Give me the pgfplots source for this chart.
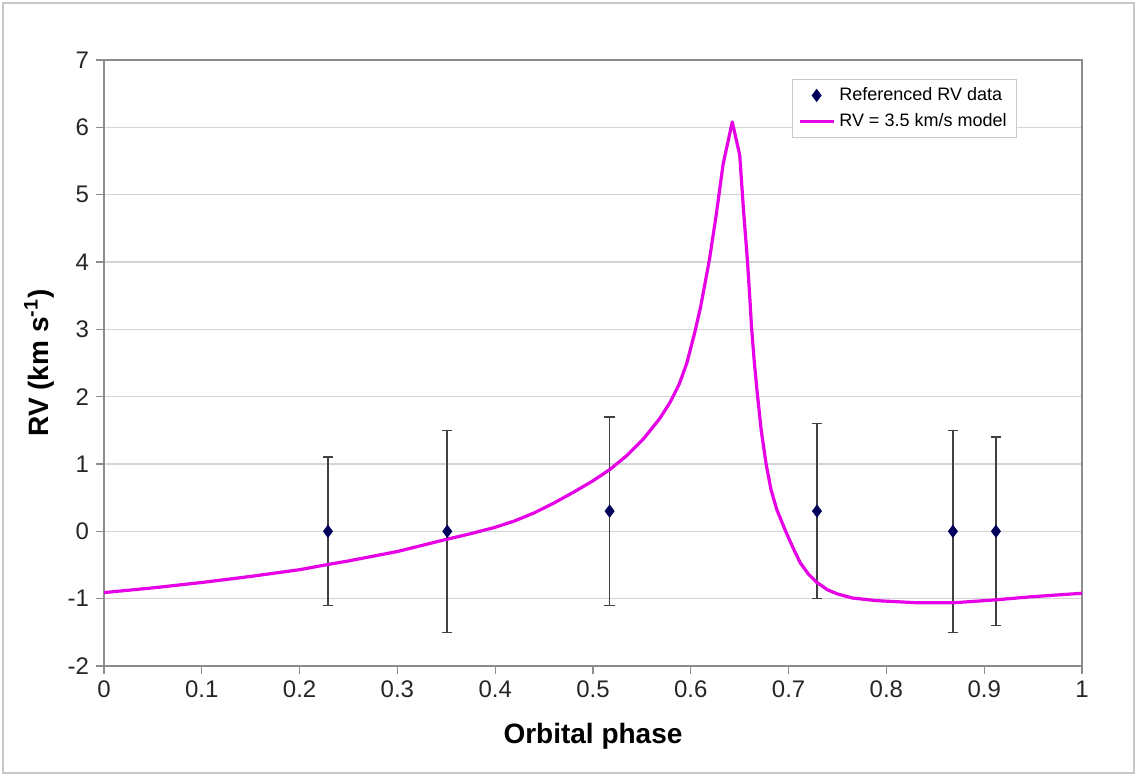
\documentclass[border=0pt]{standalone}
\usepackage{fontspec}
\setmainfont{Liberation Sans}
\usepackage{pgfplots}
\pgfplotsset{compat=1.18}

\definecolor{rvmag}{RGB}{230,0,230}
\definecolor{ptnavy}{RGB}{0,0,90}
\definecolor{gridgray}{RGB}{212,212,212}
\definecolor{boxgray}{RGB}{140,140,140}
\definecolor{framegray}{RGB}{200,200,200}

% Measured radial velocities with symmetric errors (km/s)
\pgfplotstableread{
phase rv err
0.229 0.0 1.1
0.351 0.0 1.5
0.517 0.3 1.4
0.729 0.3 1.3
0.868 0.0 1.5
0.912 0.0 1.4
}\rvdata

% Model curve for a 3.5 km/s semi-amplitude
\pgfplotstableread{
phase rv
0.000 -0.91
0.050 -0.84
0.100 -0.76
0.150 -0.67
0.200 -0.57
0.230 -0.49
0.250 -0.44
0.300 -0.30
0.350 -0.12
0.375 -0.035
0.400 0.06
0.420 0.155
0.440 0.275
0.460 0.42
0.480 0.58
0.500 0.75
0.5174 0.92
0.535 1.13
0.552 1.38
0.568 1.67
0.579 1.92
0.588 2.18
0.596 2.50
0.604 2.95
0.610 3.33
0.619 4.03
0.626 4.70
0.633 5.45
0.6424 6.08
0.650 5.59
0.654 4.75
0.658 4.00
0.6605 3.43
0.662 3.05
0.665 2.50
0.668 2.05
0.672 1.50
0.677 1.00
0.682 0.62
0.688 0.32
0.697 0.00
0.705 -0.26
0.712 -0.47
0.720 -0.63
0.729 -0.76
0.740 -0.87
0.750 -0.93
0.765 -0.99
0.790 -1.03
0.830 -1.06
0.870 -1.06
0.910 -1.02
0.950 -0.97
1.000 -0.92
}\rvmodel

\begin{document}
\begin{tikzpicture}
\begin{axis}[
  name=ax,
  scale only axis,
  width=489pt, height=303pt,
  xmin=0, xmax=1, ymin=-2, ymax=7,
  xtick={0,0.1,...,1.0},
  ytick={-2,-1,...,7},
  xticklabel style={/pgf/number format/fixed, /pgf/number format/precision=1},
  /pgf/number format/assume math mode=true,
  tick label style={font=\fontsize{12}{14}\selectfont, text=black!85},
  tick pos=left,
  tick align=outside,
  major tick length=4pt,
  tick style={boxgray, line width=0.6pt},
  axis line style={boxgray, line width=1pt},
  ymajorgrids,
  grid style={gridgray, line width=0.8pt},
  xlabel={\bfseries Orbital phase},
  ylabel={\bfseries RV (km s\textsuperscript{-1})},
  xlabel style={font=\fontsize{14}{16}\selectfont, at={(axis description cs:0.5,0)}, anchor=north, yshift=-25pt},
  ylabel style={font=\fontsize{14}{16}\selectfont},
  legend style={
    at={(rel axis cs:0.9335,0.9686)}, anchor=north east,
    draw=framegray, fill=white,
    font=\fontsize{9}{11}\selectfont,
    inner xsep=3pt, inner ysep=2pt,
    row sep=1pt,
  },
  legend cell align=left,
  clip=false,
]
\addplot[
  only marks,
  mark=diamond*,
  mark size=3pt,
  mark options={draw=ptnavy, fill=ptnavy},
  error bars/.cd,
    y dir=both, y explicit,
    error bar style={black!75, line width=0.8pt},
    error mark options={rotate=90, mark size=2.6pt, line width=0.8pt, black!75},
] table[x=phase, y=rv, y error=err] {\rvdata};
\addlegendentry{Referenced RV data}

\addplot[rvmag, line width=1.6pt, mark=none, line join=round] table[x=phase, y=rv] {\rvmodel};
\addlegendentry{RV = 3.5 km/s model}
\end{axis}
\path[use as bounding box] ([shift={(-52pt,-55pt)}]ax.south west) rectangle ([shift={(27.5pt,30pt)}]ax.north east);
\draw[framegray, line width=1pt] ([shift={(-50.5pt,-53.5pt)}]ax.south west) rectangle ([shift={(26pt,28.5pt)}]ax.north east);
\end{tikzpicture}
\end{document}
